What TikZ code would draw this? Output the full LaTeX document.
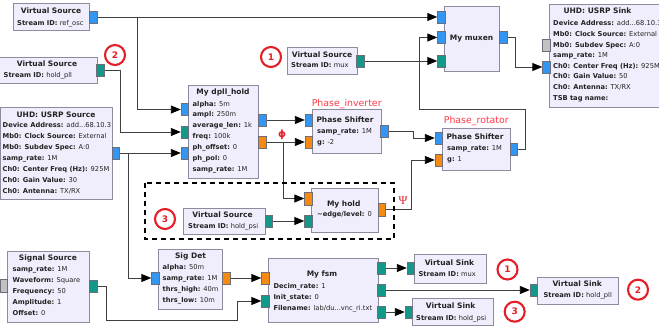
\documentclass[tikz,border=0pt]{standalone}
\usepackage{fontspec}
\setmainfont{DejaVu Sans}
\newfontfamily\psifont{Liberation Serif}
\usetikzlibrary{arrows.meta}
\definecolor{blkfill}{HTML}{F0EEFC}
\definecolor{blkline}{HTML}{8C8C9E}
\definecolor{pblue}{HTML}{3396F2}
\definecolor{pteal}{HTML}{12998A}
\definecolor{porange}{HTML}{F58A12}
\definecolor{pgrey}{HTML}{C2C2C2}
\definecolor{portline}{HTML}{6E6E7A}
\definecolor{wirec}{HTML}{404040}
\definecolor{txtc}{HTML}{222222}
\definecolor{badgered}{HTML}{E41E26}
\definecolor{lblred}{HTML}{FF3A48}
\newcounter{lbl}
\newcommand\blk[5]{\node[blk,minimum width=#4pt,minimum height=#5pt] (#1) at (#2,#3) {};}
\newcommand\prt[4]{\node[port,fill=#4] (#1) at (#2,#3) {};}
\newcommand\blkT[3]{\stepcounter{lbl}\node[ttl] (t\arabic{lbl}) at (#1,#2) {#3};}
\newcommand\blkP[4]{\stepcounter{lbl}\node[prm] (t\arabic{lbl}) at (#1,#2) {\textbf{#3:} #4};}
\begin{document}
\begin{tikzpicture}[x=1pt,y=-1pt,
  blk/.style={rectangle,draw=blkline,fill=blkfill,line width=0.8pt,inner sep=0pt},
  port/.style={rectangle,draw=portline,line width=0.4pt,minimum width=7pt,minimum height=12pt,inner sep=0pt},
  wire/.style={draw=wirec,line width=0.9pt},
  arr/.style={wire,-{Triangle[length=10pt,width=8pt,color=black,fill=black]}},
  ttl/.style={font=\fontsize{7.5}{9}\selectfont\bfseries,text=txtc,inner sep=0pt,anchor=mid},
  prm/.style={font=\fontsize{6.7}{8}\selectfont,text=txtc,inner sep=0pt,anchor=mid west},
  badge/.style={circle,draw=badgered,line width=2.1pt,fill=white,minimum size=20pt,inner sep=0pt,text=badgered,font=\fontsize{9}{9}\selectfont\bfseries},
  redlbl/.style={font=\fontsize{9.4}{10}\selectfont,text=lblred,inner sep=0pt,anchor=base},
  dashbox/.style={draw=black,line width=1.5pt,dash pattern=on 5pt off 4pt}]
\fill[white] (0,0) rectangle (659,326);
\useasboundingbox (0,0) rectangle (659,326);

% ---------- ports (placed first so wires can refer to them) ----------
\prt{refO}{93}{17}{pblue}
\prt{pllO}{100}{70.5}{pteal}
\prt{usrpO}{115.5}{153}{pblue}
\prt{sigsrcI}{3.5}{285.5}{pgrey}
\prt{sigsrcO}{93}{286}{pteal}
\prt{dpllI1}{184.5}{109.5}{pblue}
\prt{dpllI2}{184.5}{132}{pteal}
\prt{dpllI3}{184.5}{153}{pblue}
\prt{dpllO1}{262}{120}{pblue}
\prt{dpllO2}{262}{142}{porange}
\prt{invI1}{308.5}{120}{pblue}
\prt{invI2}{308.5}{142}{porange}
\prt{invO}{384}{131}{pblue}
\prt{rotI1}{438.5}{138}{pblue}
\prt{rotI2}{438.5}{160}{porange}
\prt{rotO}{513.5}{149}{pblue}
\prt{muxI1}{441}{17}{pblue}
\prt{muxI2}{441}{37.5}{pblue}
\prt{muxI3}{441}{61}{pteal}
\prt{muxO}{503}{37.5}{pblue}
\prt{vsmuxO}{360}{61}{pteal}
\prt{sinkI1}{546}{45}{pgrey}
\prt{sinkI2}{546}{67}{pblue}
\prt{holdI1}{308}{198.5}{porange}
\prt{holdI2}{308}{221}{pteal}
\prt{holdO}{381.5}{209.5}{porange}
\prt{psiO}{268.5}{221}{pteal}
\prt{sigI}{155}{278}{pblue}
\prt{sigO}{226}{278}{porange}
\prt{fsmI1}{265}{278}{porange}
\prt{fsmI2}{265}{301}{pteal}
\prt{fsmO1}{381}{268}{pteal}
\prt{fsmO2}{381}{290}{pteal}
\prt{fsmO3}{381}{312}{pteal}
\prt{vsmI}{410.5}{268}{pteal}
\prt{vspI}{533.5}{290}{pteal}
\prt{vsdI}{408.5}{312}{pteal}

% ---------- wires ----------
\coordinate (j1) at (137,17);
\coordinate (j3) at (128,153);
\coordinate (j4) at (283,142);
\draw[arr] (refO.east) -- (muxI1.west);
\draw[arr] (j1) |- (dpllI1.west);
\draw[arr] (pllO.east) -- ++(16.5,0) |- (dpllI2.west);
\draw[arr] (usrpO.east) -- (dpllI3.west);
\draw[arr] (j3) |- (sigI.west);
\draw[arr] (dpllO1.east) -- (invI1.west);
\draw[arr] (dpllO2.east) -- (invI2.west);
\draw[arr] (j4) |- (holdI1.west);
\draw[arr] (invO.east) -- ++(25.5,0) |- (rotI1.west);
\draw[arr] (holdO.east) -- ++(26,0) |- (rotI2.west);
\draw[arr] (rotO.east) -- ++(8,0) |- (419,109) |- (muxI2.west);
\draw[arr] (vsmuxO.east) -- (muxI3.west);
\draw[arr] (muxO.east) -- ++(9,0) |- (sinkI2.west);
\draw[arr] (psiO.east) -- (holdI2.west);
\draw[arr] (sigsrcO.east) -- ++(10,0) |- (237,320.5) |- (fsmI2.west);
\draw[arr] (sigO.east) -- (fsmI1.west);
\draw[arr] (fsmO1.east) -- (vsmI.west);
\draw[arr] (fsmO2.east) -- (vspI.west);
\draw[arr] (fsmO3.east) -- (vsdI.west);

% ---------- dashed group ----------
\draw[dashbox] (145,183) rectangle (394,239);

% ---------- blocks ----------
\blk{ref}{51}{16.5}{76}{27}
\blk{pll}{48}{70}{98}{26}
\blk{usrp}{56.25}{153}{111.5}{92}
\blk{sigsrc}{48}{286.5}{82}{71}
\blk{dpll}{223}{131.5}{70}{93}
\blk{inv}{346.5}{131}{69}{44}
\blk{rot}{476}{149}{68}{42}
\blk{mux}{471.5}{38.5}{55}{65}
\blk{vsmux}{322}{60.5}{70}{27}
\blk{sink}{606.5}{55.5}{115}{103}
\blk{hold}{344.5}{210}{67}{44}
\blk{psi}{224}{221}{82}{26}
\blk{sigdet}{190}{279}{64}{60}
\blk{fsm}{323}{290}{110}{64}
\blk{vsm}{450}{268.5}{72}{29}
\blk{vsp}{577.5}{290.5}{81}{27}
\blk{vsd}{452.5}{311.5}{81}{27}

% redraw ports on top of blocks
\foreach \p/\c in {refO/pblue,pllO/pteal,usrpO/pblue,sigsrcI/pgrey,sigsrcO/pteal,
  dpllI1/pblue,dpllI2/pteal,dpllI3/pblue,dpllO1/pblue,dpllO2/porange,
  invI1/pblue,invI2/porange,invO/pblue,rotI1/pblue,rotI2/porange,rotO/pblue,
  muxI1/pblue,muxI2/pblue,muxI3/pteal,muxO/pblue,vsmuxO/pteal,sinkI1/pgrey,sinkI2/pblue,
  holdI1/porange,holdI2/pteal,holdO/porange,psiO/pteal,sigI/pblue,sigO/porange,
  fsmI1/porange,fsmI2/pteal,fsmO1/pteal,fsmO2/pteal,fsmO3/pteal,vsmI/pteal,vspI/pteal,vsdI/pteal}
  {\draw[draw=portline,line width=0.4pt,fill=\c] (\p.north west) rectangle (\p.south east);}

% ---------- block texts ----------
\blkT{51}{11}{Virtual Source}
\blkP{17}{22.5}{Stream ID}{ref\_osc}

\blkT{47}{64}{Virtual Source}
\blkP{3.5}{75}{Stream ID}{hold\_pll}

\blkT{56}{114.3}{UHD: USRP Source}
\blkP{2.5}{125}{Device Address}{add...68.10.3}
\blkP{2.5}{136}{Mb0: Clock Source}{External}
\blkP{2.5}{146.7}{Mb0: Subdev Spec}{A:0}
\blkP{2.5}{157.5}{samp\_rate}{1M}
\blkP{2.5}{168.7}{Ch0: Center Freq (Hz)}{925M}
\blkP{2.5}{179.7}{Ch0: Gain Value}{30}
\blkP{2.5}{190.5}{Ch0: Antenna}{TX/RX}

\blkT{48}{258}{Signal Source}
\blkP{12.5}{269}{samp\_rate}{1M}
\blkP{12.5}{280}{Waveform}{Square}
\blkP{12.5}{291}{Frequency}{50}
\blkP{12.5}{302}{Amplitude}{1}
\blkP{12.5}{312.7}{Offset}{0}

\blkT{223}{92}{My dpll\_hold}
\blkP{192.5}{103.3}{alpha}{5m}
\blkP{192.5}{114}{ampl}{250m}
\blkP{192.5}{125}{average\_len}{1k}
\blkP{192.5}{136}{freq}{100k}
\blkP{192.5}{147}{ph\_offset}{0}
\blkP{192.5}{158}{ph\_pol}{0}
\blkP{192.5}{169}{samp\_rate}{1M}

\blkT{345}{120}{Phase Shifter}
\blkP{317}{131}{samp\_rate}{1M}
\blkP{317}{142}{g}{-2}

\blkT{475}{137}{Phase Shifter}
\blkP{447}{148}{samp\_rate}{1M}
\blkP{447}{159}{g}{1}

\blkT{471.5}{38}{My muxen}

\blkT{322}{54.3}{Virtual Source}
\blkP{291}{65}{Stream ID}{mux}

\blkT{597.5}{11}{UHD: USRP Sink}
\blkP{553}{22.7}{Device Address}{add...68.10.3}
\blkP{553}{33.7}{Mb0: Clock Source}{External}
\blkP{553}{44.7}{Mb0: Subdev Spec}{A:0}
\blkP{553}{54.7}{samp\_rate}{1M}
\blkP{553}{65.3}{Ch0: Center Freq (Hz)}{925M}
\blkP{553}{76}{Ch0: Gain Value}{50}
\blkP{553}{87}{Ch0: Antenna}{TX/RX}
\blkP{553}{98}{TSB tag name}{}

\blkT{343.7}{203.3}{My hold}
\blkP{317}{214}{\textasciitilde edge/level}{0}

\blkT{222.5}{214.5}{Virtual Source}
\blkP{188}{225.5}{Stream ID}{hold\_psi}

\blkT{190.5}{256}{Sig Det}
\blkP{162.5}{266.7}{alpha}{50m}
\blkP{162.5}{277.7}{samp\_rate}{1M}
\blkP{162.5}{289}{thrs\_high}{40m}
\blkP{162.5}{300}{thrs\_low}{10m}

\blkT{322}{274}{My fsm}
\blkP{273.3}{285.7}{Decim\_rate}{1}
\blkP{273.3}{296.7}{Init\_state}{0}
\blkP{273.3}{307.7}{Filename}{lab/du...vnc\_ri.txt}

\blkT{449.5}{262.3}{Virtual Sink}
\blkP{418.3}{274}{Stream ID}{mux}

\blkT{577.2}{284}{Virtual Sink}
\blkP{543.3}{294.3}{Stream ID}{hold\_pll}

\blkT{450.7}{306}{Virtual Sink}
\blkP{416}{317.3}{Stream ID}{hold\_psi}

% ---------- annotations ----------
\node[redlbl] (lbinv) at (346.7,106.3) {Phase\_inverter};
\node[redlbl] (lbrot) at (476.3,123.3) {Phase\_rotator};
\node[inner sep=0pt,text=badgered,font=\fontsize{10}{10}\selectfont\bfseries] (phi) at (282,134.5) {ϕ};
\node[inner sep=0pt,text=badgered,font=\fontsize{12}{12}\psifont] (psi) at (403,201) {Ψ};

\node[badge] (b2a) at (115,55) {2};
\node[badge] (b1a) at (271,57) {1};
\node[badge] (b3a) at (165,219) {3};
\node[badge] (b1b) at (507.5,269.5) {1};
\node[badge] (b2b) at (638,289.7) {2};
\node[badge] (b3b) at (514.7,311.7) {3};
\end{tikzpicture}
\end{document}
